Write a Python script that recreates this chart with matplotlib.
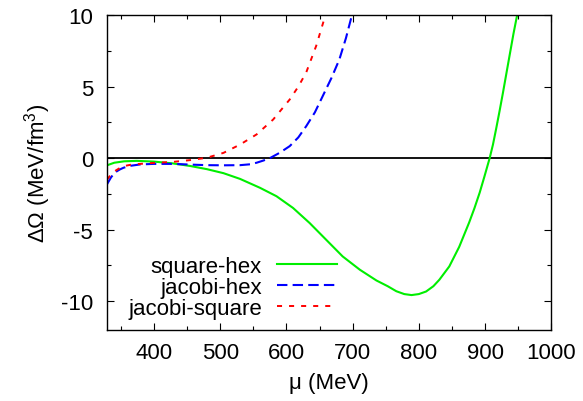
import matplotlib
matplotlib.use("Agg")
import matplotlib.pyplot as plt
from matplotlib.ticker import MultipleLocator

plt.rcParams['font.family'] = ['Liberation Sans', 'DejaVu Sans']
plt.rcParams['mathtext.fontset'] = 'custom'
plt.rcParams['mathtext.rm'] = 'Liberation Sans'
plt.rcParams['axes.unicode_minus'] = False

# values
mu_sq_hex = [329, 340, 355, 374, 400, 429, 455, 480, 505, 530, 560, 585, 610, 635, 660,
             685, 711, 736, 753, 766, 778, 789, 800, 811, 822, 831, 846, 861, 876, 884,
             892, 899, 907, 912, 917, 922, 927, 932, 937, 943, 948.5]
om_sq_hex = [-0.5, -0.32, -0.22, -0.19, -0.24, -0.37, -0.55, -0.77, -1.05, -1.45, -2.07, -2.66,
             -3.48, -4.53, -5.7, -6.87, -7.8, -8.55, -8.95, -9.3, -9.5, -9.57, -9.5, -9.32,
             -8.95, -8.5, -7.57, -6.2, -4.5, -3.5, -2.4, -1.3, 0.0, 0.95, 2.1, 3.3, 4.55,
             5.85, 7.15, 8.7, 10.0]

mu_jac_hex = [329, 335, 341, 348, 354, 365, 379, 400, 429, 455, 480, 505, 530, 545, 555, 565,
              575, 590, 605, 618, 630, 643, 655, 668, 680, 690, 699]
om_jac_hex = [-1.83, -1.35, -1.0, -0.8, -0.67, -0.53, -0.44, -0.4, -0.4, -0.45, -0.49, -0.5,
              -0.49, -0.43, -0.32, -0.17, 0.0, 0.38, 0.84, 1.45, 2.24, 3.2, 4.35, 5.6, 6.9, 8.4, 10.0]

mu_jac_sq = [329, 335, 341, 348, 354, 365, 379, 400, 429, 454, 480, 505, 530, 555, 580, 605,
             618, 630, 645, 658]
om_jac_sq = [-1.5, -1.15, -0.9, -0.7, -0.56, -0.46, -0.4, -0.33, -0.26, -0.14, 0.03, 0.37, 0.95,
             1.66, 2.7, 4.1, 5.0, 6.0, 7.85, 9.85]

x_ticks = [400, 500, 600, 700, 800, 900, 1000]
y_ticks = [-10, -5, 0, 5, 10]

fig = plt.figure(figsize=(5.83, 4.02), dpi=100)
ax = fig.add_axes([0.1835, 0.177, 0.762, 0.783])

ax.axhline(0, color='black', lw=1.3, zorder=1)
ax.plot(mu_sq_hex, om_sq_hex, color='#00ee00', lw=1.5, label='square-hex')
ax.plot(mu_jac_hex, om_jac_hex, color='#0000ff', lw=1.5, dashes=(5, 2.5), label='jacobi-hex')
ax.plot(mu_jac_sq, om_jac_sq, color='#ff0000', lw=1.4, dashes=(2.6, 3.6), label='jacobi-square')

ax.set_xlim(329, 1000)
ax.set_ylim(-12, 10)
ax.set_xticks(x_ticks)
ax.set_yticks(y_ticks)
ax.xaxis.set_minor_locator(MultipleLocator(50))
ax.yaxis.set_minor_locator(MultipleLocator(2.5))
ax.tick_params(which='both', direction='in', top=True, right=True, labelsize=16)
ax.tick_params(axis='x', pad=9)
ax.tick_params(axis='y', pad=10)
ax.tick_params(which='major', length=5, width=0.8)
ax.tick_params(which='minor', length=3, width=0.8)
for s in ax.spines.values():
    s.set_linewidth(1.0)

ax.set_xlabel('μ (MeV)', fontsize=16, labelpad=6)
ax.set_ylabel('ΔΩ (MeV/fm$^3$)', fontsize=16, labelpad=6)

ax.legend(loc='lower right', bbox_to_anchor=(0.518, 0.035), frameon=False, markerfirst=False,
          fontsize=16, handlelength=2.7, handletextpad=0.68, labelspacing=0.0,
          borderpad=0, borderaxespad=0)

fig.savefig('out.png', dpi=100)
